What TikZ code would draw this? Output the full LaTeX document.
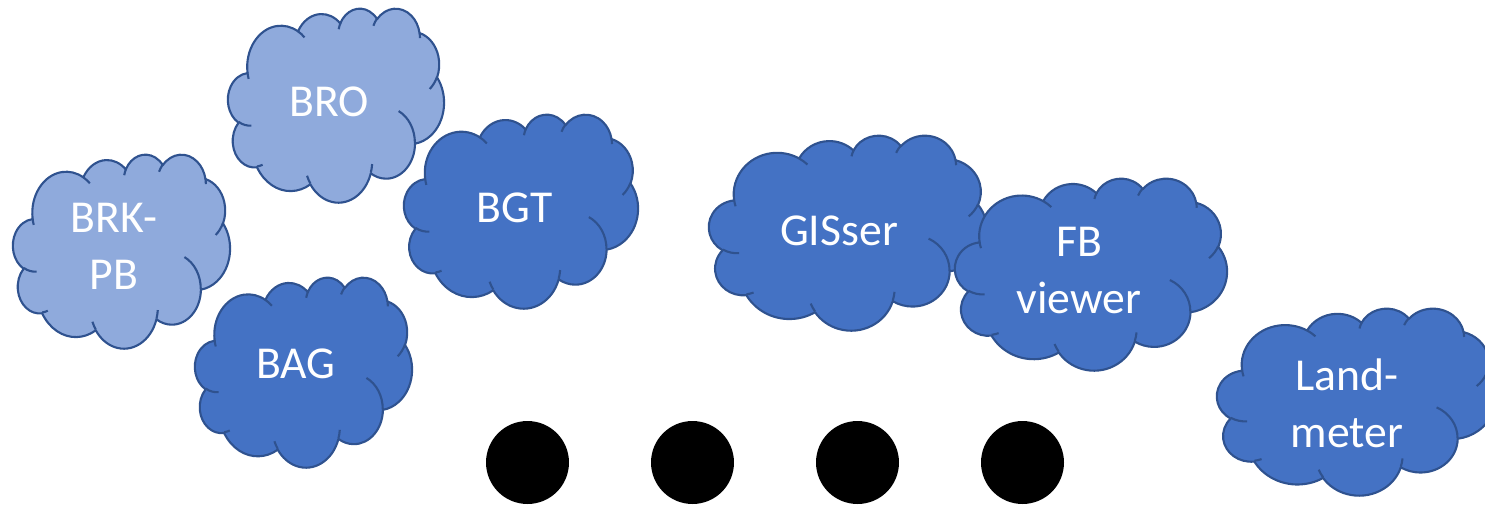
\documentclass[tikz,border=0pt]{standalone}
\usepackage{fontspec}
\setmainfont{Carlito}
\usepackage{tikz}

\definecolor{cloudlight}{HTML}{8FAADC}
\definecolor{clouddark}{HTML}{4472C4}
\definecolor{cloudrim}{HTML}{2F528F}

\tikzset{
    cloudedge/.style={draw=cloudrim, line width=1.2pt, line join=round},
    cloudlabel/.style={text=white, font=\fontsize{26}{32.3}\selectfont, align=center, inner sep=0pt},
    blackdot/.style={circle, fill=black, inner sep=0pt, minimum size=1.66cm},
    cloudarc/.style n args={4}{start angle={vis(#1,#3,#4)}, end angle={vis(#1+#2,#3,#4)}, x radius=#3, y radius=#4}
}

% cloud outline: fill, left, top, width, height (pixel units)
\newcommand{\pptcloud}[5]{%
    \begin{scope}[shift={(#2,#3)}, xscale=#4/43.2, yscale=#5/43.2]
        \path[cloudedge, fill=#1] (3.900,14.370)
            arc[cloudarc={-190.4875}{123.7805}{6.753}{9.190}]
            arc[cloudarc={-144.1024}{89.9452}{5.333}{7.267}]
            arc[cloudarc={-145.8079}{99.7230}{4.365}{5.945}]
            arc[cloudarc={-130.9861}{117.2417}{4.857}{6.595}]
            arc[cloudarc={-78.7089}{109.0269}{5.333}{7.273}]
            arc[cloudarc={-46.2673}{130.2690}{6.775}{9.220}]
            arc[cloudarc={0.6250}{114.0333}{5.785}{7.867}]
            arc[cloudarc={22.4516}{115.1726}{6.752}{9.215}]
            arc[cloudarc={66.2426}{75.7110}{7.720}{10.543}]
            arc[cloudarc={-274.9421}{146.7356}{4.360}{5.918}]
            arc[cloudarc={-246.8285}{152.5189}{4.345}{5.945}]
            -- cycle;
        \draw[cloudedge]
            (4.693,26.177) arc[cloudarc={86.7420}{26.4295}{4.345}{5.945}]
            (6.928,34.899) arc[cloudarc={73.6105}{11.4475}{4.360}{5.918}]
            (16.478,39.090) arc[cloudarc={137.6242}{14.0811}{6.752}{9.215}]
            (28.827,34.751) arc[cloudarc={6.4533}{15.9984}{6.752}{9.215}]
            (34.129,22.954) arc[cloudarc={-70.2924}{70.9174}{5.785}{7.867}]
            (41.798,15.354) arc[cloudarc={30.3180}{27.7515}{5.333}{7.273}]
            (38.324,5.426) arc[cloudarc={-13.7443}{14.8589}{4.857}{6.595}]
            (29.078,3.952) arc[cloudarc={-149.1815}{18.1954}{4.857}{6.595}]
            (22.141,4.720) arc[cloudarc={-163.4943}{17.6864}{4.365}{5.945}]
            (14.000,5.192) arc[cloudarc={-66.7070}{12.3194}{6.753}{9.190}]
            (4.127,15.789) arc[cloudarc={157.6544}{11.8582}{6.753}{9.190}];
    \end{scope}}

\begin{document}
\begin{tikzpicture}[x=0.02cm, y=-0.02cm,
    declare function={vis(\a,\rx,\ry)=\a+mod(atan2(\rx*sin(\a),\ry*cos(\a))-\a+3780,360)-180;}]
    \useasboundingbox (0,0) rectangle (1485,505);

    % Light clouds
    \pptcloud{cloudlight}{228}{8}{216}{194}
    \node[cloudlabel] (bro) at (329,101.5) {BRO};
    \pptcloud{cloudlight}{13}{154}{217}{194}
    \node[cloudlabel] (brkpb) at (114,246.5) {BRK-\\PB};

    % Dark clouds
    \pptcloud{clouddark}{195}{277}{217}{190}
    \node[cloudlabel] (bag) at (296,364) {BAG};
    \pptcloud{clouddark}{404}{114}{234}{194}
    \node[cloudlabel] (bgt) at (514.5,207.5) {BGT};
    \pptcloud{clouddark}{709}{135}{278}{195}
    \node[cloudlabel] (gisser) at (839,230.5) {GISser};
    \pptcloud{clouddark}{955}{178}{272}{192}
    \node[cloudlabel] (fbviewer) at (1079,270.5) {FB\\viewer};
    \pptcloud{clouddark}{1217}{308}{278}{187}
    \node[cloudlabel] (landmeter) at (1347,403.5) {Land-\\meter};

    % Dots
    \foreach \i/\x in {1/527.5, 2/692.5, 3/857.5, 4/1022.5}
        \node[blackdot] (dot\i) at (\x,462.5) {};
\end{tikzpicture}
\end{document}
